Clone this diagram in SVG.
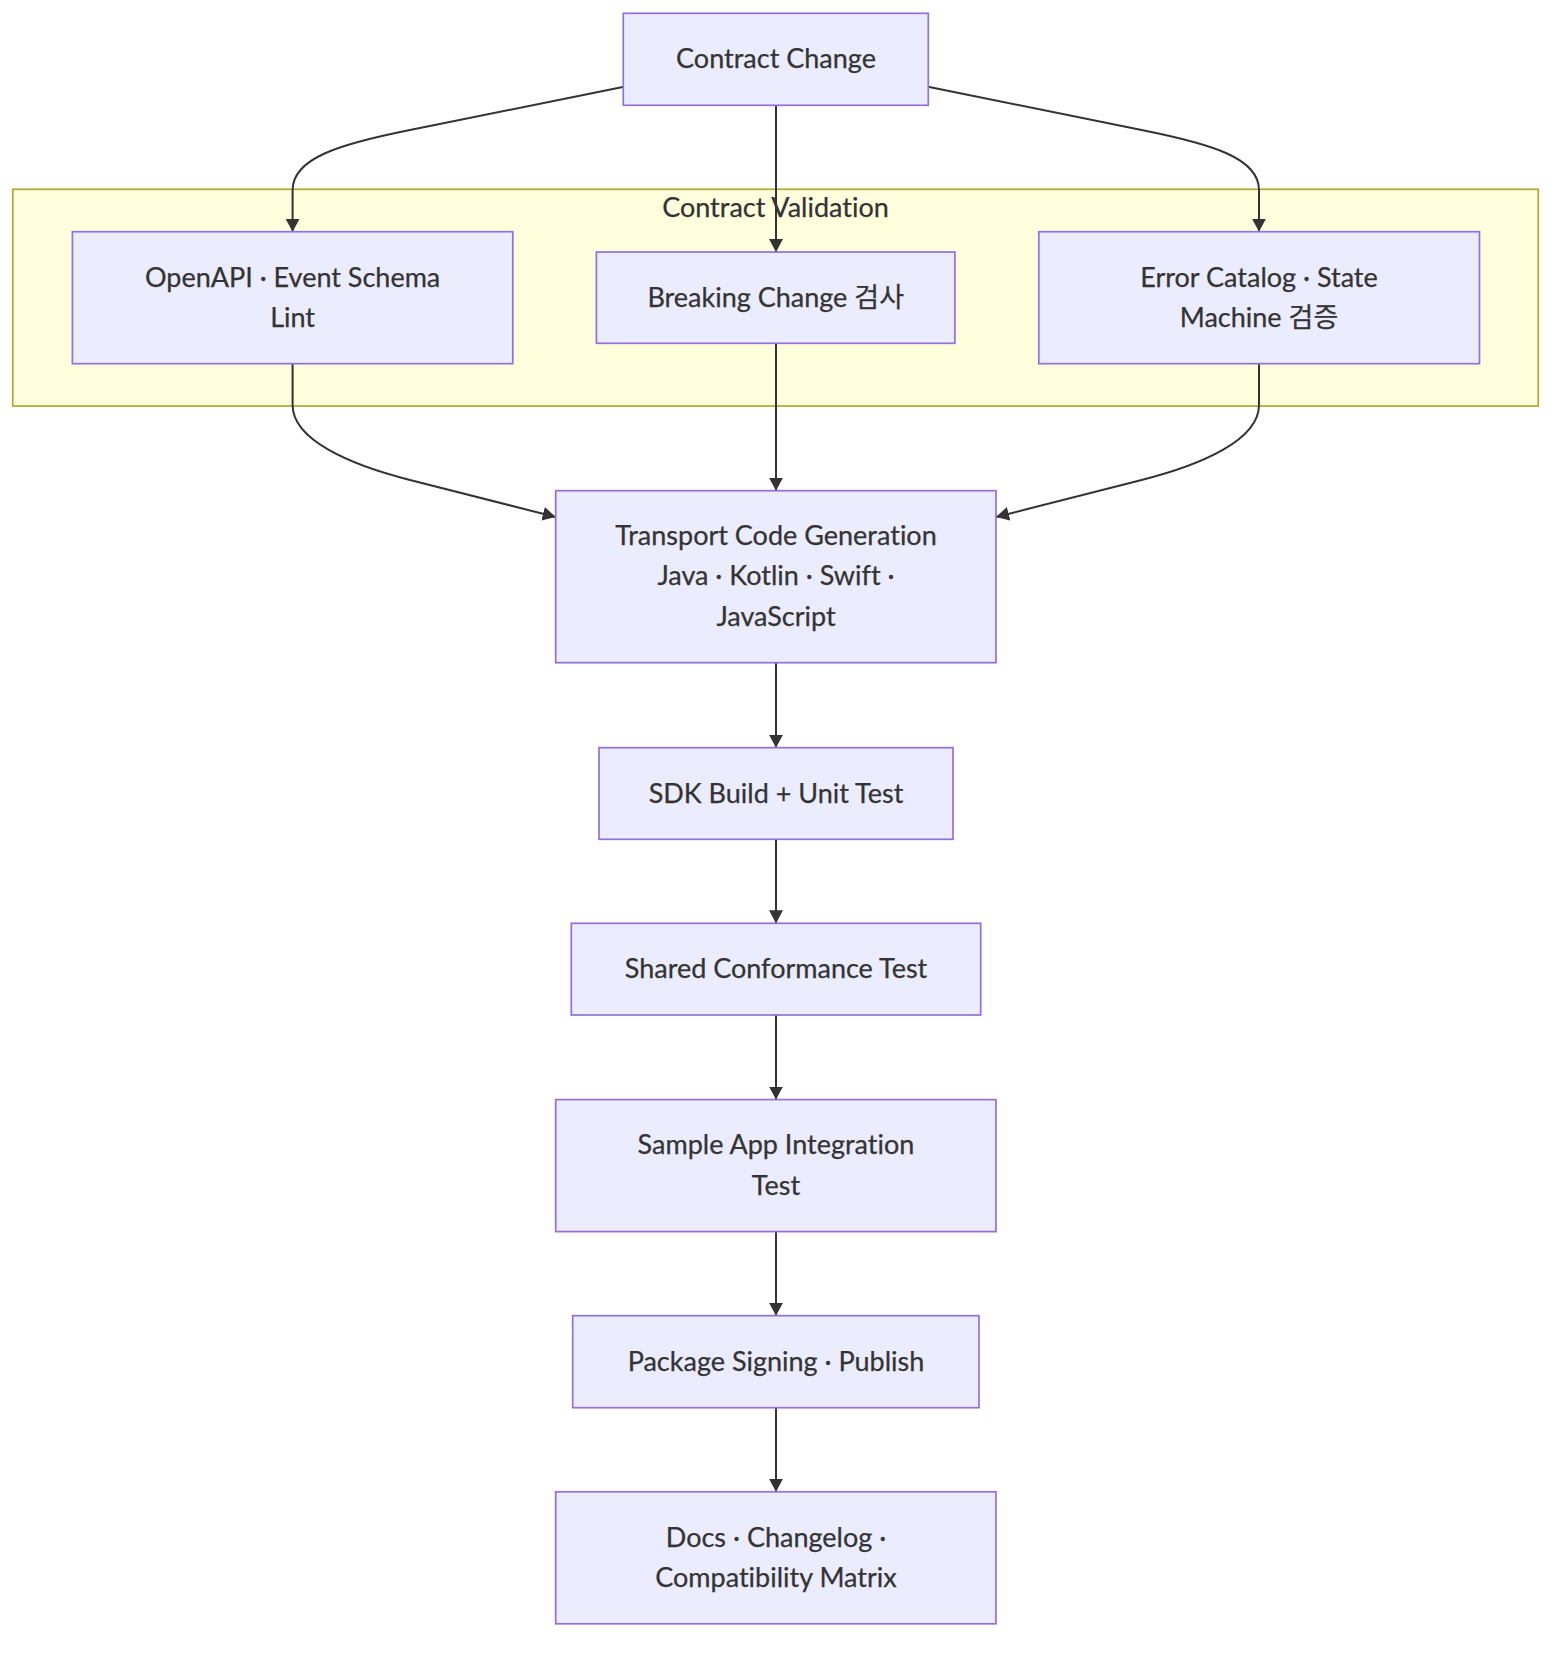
<svg xmlns="http://www.w3.org/2000/svg" width="1568" height="1656" viewBox="0 0 1568 1656">
<style>
.bg{fill:#ffffff}
.node rect{fill:#ECECFF;stroke:#9370DB;stroke-width:1.7}
.cluster rect{fill:#ffffde;stroke:#aaaa33;stroke-width:1.7}
text{font-family:"Lato","Noto Sans CJK KR",sans-serif;font-size:27px;fill:#333333;text-anchor:middle;font-variant-ligatures:none;stroke:#333333;stroke-width:0.25}
.edges path{fill:none;stroke:#333333;stroke-width:2;marker-end:url(#arrow)}
</style>
<defs>
<marker id="arrow" viewBox="0 0 10 10" refX="10" refY="5" markerUnits="userSpaceOnUse" markerWidth="13" markerHeight="14" orient="auto" preserveAspectRatio="none">
<path d="M0,0 L10,5 L0,10 z" fill="#333333"/>
</marker>
</defs>
<rect class="bg" x="0" y="0" width="1568" height="1656"/>

<g id="cluster-validation" class="cluster">
<rect x="12.75" y="189.3" width="1525.5" height="216.7"/>
<text x="775.5" y="216.5">Contract Validation</text>
</g>

<g id="edges" class="edges">
<path d="M624,86.7 L410,130 C340,144 292.6,158 292.6,190 L292.6,231.7"/>
<path d="M776,105.3 L776,252"/>
<path d="M928,86.7 L1141.6,130 C1211.6,144 1259,158 1259,190 L1259,231.7"/>
<path d="M292.6,363.7 L292.6,405 C292.6,440 350,464.8 410,480 L555.7,517"/>
<path d="M776,343.3 L776,490.7"/>
<path d="M1259,363.7 L1259,405 C1259,440 1201.6,464.8 1141.6,480 L996,517"/>
<path d="M776,662.7 L776,747.7"/>
<path d="M776,839.3 L776,923.3"/>
<path d="M776,1015 L776,1099.6"/>
<path d="M776,1231.6 L776,1315.7"/>
<path d="M776,1407.7 L776,1491.8"/>
</g>

<g id="contract-change" class="node">
<rect x="623.3" y="13.3" width="305" height="92"/>
<text x="776" y="68.3">Contract Change</text>
</g>
<g id="openapi-lint" class="node">
<rect x="72.4" y="231.7" width="440.4" height="132"/>
<text x="292.6" y="286.5">OpenAPI · Event Schema</text>
<text x="292.6" y="327">Lint</text>
</g>
<g id="breaking-change" class="node">
<rect x="596.4" y="252" width="358.5" height="91.3"/>
<text x="775.7" y="306.7">Breaking Change 검사</text>
</g>
<g id="error-catalog" class="node">
<rect x="1038.8" y="231.7" width="440.7" height="132"/>
<text x="1259" y="286.5">Error Catalog · State</text>
<text x="1259" y="327">Machine 검증</text>
</g>
<g id="transport-codegen" class="node">
<rect x="555.7" y="490.7" width="440.3" height="172"/>
<text x="776" y="544.5">Transport Code Generation</text>
<text x="776" y="585">Java · Kotlin · Swift ·</text>
<text x="776" y="625.5">JavaScript</text>
</g>
<g id="sdk-build" class="node">
<rect x="599" y="747.7" width="354" height="91.6"/>
<text x="776" y="802.5">SDK Build + Unit Test</text>
</g>
<g id="conformance-test" class="node">
<rect x="571.3" y="923.3" width="409.4" height="91.7"/>
<text x="776" y="978.2">Shared Conformance Test</text>
</g>
<g id="sample-app-test" class="node">
<rect x="555.7" y="1099.6" width="440.3" height="132"/>
<text x="776" y="1154.4">Sample App Integration</text>
<text x="776" y="1194.9">Test</text>
</g>
<g id="package-publish" class="node">
<rect x="572.7" y="1315.7" width="406.3" height="92"/>
<text x="776" y="1370.6">Package Signing · Publish</text>
</g>
<g id="docs-matrix" class="node">
<rect x="555.7" y="1491.8" width="440.3" height="132"/>
<text x="776" y="1546.6">Docs · Changelog ·</text>
<text x="776" y="1587.1">Compatibility Matrix</text>
</g>
</svg>
